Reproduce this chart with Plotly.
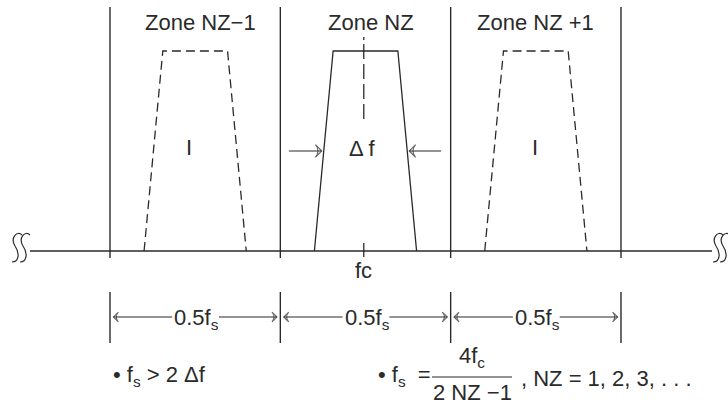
import plotly.graph_objects as go

# Frequency axis in units of half the sampling rate (0.5 fs per zone)
zone_edges = [1.0, 2.0, 3.0, 4.0]
zone_labels = ["Zone NZ−1", "Zone NZ", "Zone NZ +1"]
zone_label_x = [1.53, 2.53, 3.50]
band_centers = [1.5, 2.5, 3.5]
band_styles = ["dash", "solid", "dash"]
band_half_bottom = 0.30
band_half_top = 0.19
band_height = 1.0
image_label_x = [1.465, 3.495]
fc = 2.49
zone_width_label = "0.5f<sub>s</sub>"

# axis ranges (frequency units / amplitude units)
X0, SX = 0.3542, 170.33   # left edge, pixels per unit
Y0, SY = 1.255, 200.0     # top edge, pixels per unit
XR = [X0, X0 + 728 / SX]
YR = [Y0 - 403 / SY, Y0]

INK = "#2a2a2a"
FONT = "Liberation Sans, Arial, Helvetica, sans-serif"
FS = 22

fig = go.Figure()


def arrow(tail, head, y, size=10, symbol="arrow-wide-open", width=1.2):
    """Horizontal arrow drawn as a line with a head marker at its end."""
    fig.add_trace(go.Scatter(
        x=[tail, head], y=[y, y], mode="lines+markers",
        line=dict(color=INK, width=width),
        marker=dict(symbol=symbol, size=[0, size], angleref="previous",
                    color=INK, line=dict(color=INK, width=width)),
        hoverinfo="skip"))


# spectral bands: the wanted band in the centre, its images dashed
for c, st in zip(band_centers, band_styles):
    xs = [c - band_half_bottom, c - band_half_top, c + band_half_top, c + band_half_bottom]
    ys = [0, band_height, band_height, 0]
    fig.add_trace(go.Scatter(
        x=xs, y=ys, mode="lines",
        line=dict(color=INK, width=1.3, dash="9px,5px" if st == "dash" else "solid"),
        hoverinfo="skip"))

# frequency axis
fig.add_shape(type="line", x0=X0 + 30 / SX, x1=X0 + 712 / SX, y0=0, y1=0,
              line=dict(color=INK, width=1.4))

# zone boundaries
for e in zone_edges:
    fig.add_shape(type="line", x0=e, x1=e, y0=-0.035, y1=1.22,
                  line=dict(color=INK, width=1.4))

# centre frequency marker and centre line of the band
fig.add_shape(type="line", x0=fc, x1=fc, y0=-0.03, y1=0.04,
              line=dict(color=INK, width=1.3))
fig.add_shape(type="line", x0=fc, x1=fc, y0=1.07, y1=0.645,
              line=dict(color=INK, width=1.3,
                        dash="3px,4px,15px,5px,15px,5px,15px,5px,15px"))


def break_mark(cx, cy):
    """S-shaped axis break drawn around pixel position (cx, cy)."""
    def p(dx, dy):
        return f"{X0 + (cx + dx) / SX:.5f},{Y0 - (cy + dy) / SY:.5f}"
    return (f"M {p(6, -13)} C {p(1, -18)} {p(-6, -10)} {p(-1, -2)} "
            f"C {p(4, 5)} {p(3, 14)} {p(-4, 14)}")


for cx in (16, 24, 717, 724):
    fig.add_shape(type="path", path=break_mark(cx, 248),
                  line=dict(color=INK, width=1.2))

annos = []
for x, t in zip(zone_label_x, zone_labels):
    annos.append(dict(x=x, y=1.145, text=t, showarrow=False))
for x in image_label_x:
    annos.append(dict(x=x, y=0.52, text="I", showarrow=False))
annos.append(dict(x=2.485, y=0.515, text="Δ f", showarrow=False))
annos.append(dict(x=fc, y=-0.095, text="fc", showarrow=False))

# bandwidth arrows pointing at the band edges
mid = 0.5
slope = band_half_bottom - band_half_top
left_edge = band_centers[1] - band_half_bottom + slope * mid
right_edge = band_centers[1] + band_half_bottom - slope * mid
arrow(2.05, left_edge - 0.012, mid, size=9)
arrow(2.944, right_edge + 0.012, mid, size=9)

# zone width dimensions
dim_y = -0.33
for e in zone_edges:
    fig.add_shape(type="line", x0=e, x1=e, y0=-0.205, y1=-0.46,
                  line=dict(color=INK, width=1.4))
for a, b in zip(zone_edges[:-1], zone_edges[1:]):
    c = (a + b) / 2
    annos.append(dict(x=c + 0.01, y=dim_y - 0.012, text=zone_width_label, showarrow=False))
    arrow(c - 0.135, a + 0.02, dim_y, size=7, width=1.1)
    arrow(c + 0.14, b - 0.02, dim_y, size=7, width=1.1)

# sampling rate conditions
annos.append(dict(x=X0 + 111 / SX, y=-0.625, xanchor="left",
                  text="• f<sub>s</sub> > 2 Δf", showarrow=False))
annos.append(dict(x=X0 + 376 / SX, y=-0.625, xanchor="left",
                  text="• f<sub>s</sub>  =", showarrow=False))
annos.append(dict(x=X0 + 472 / SX, y=-0.53, text="4f<sub>c</sub>", showarrow=False))
annos.append(dict(x=X0 + 472 / SX, y=-0.705, text="2 NZ −1", showarrow=False,
                  height=20, borderpad=0))
annos.append(dict(x=X0 + 519 / SX, y=-0.635, xanchor="left",
                  text=", NZ = 1, 2, 3, . . .", showarrow=False))
fig.add_shape(type="line", x0=X0 + 432 / SX, x1=X0 + 512 / SX,
              y0=Y0 - 377 / SY, y1=Y0 - 377 / SY, line=dict(color=INK, width=1.2))

for a in annos:
    a.setdefault("font", dict(family=FONT, size=FS, color=INK))
fig.update_layout(
    width=728, height=403,
    margin=dict(l=0, r=0, t=0, b=0),
    paper_bgcolor="white", plot_bgcolor="white",
    showlegend=False,
    xaxis=dict(range=XR, visible=False, fixedrange=True),
    yaxis=dict(range=YR, visible=False, fixedrange=True),
    annotations=annos,
)

fig.write_html("out.html")
